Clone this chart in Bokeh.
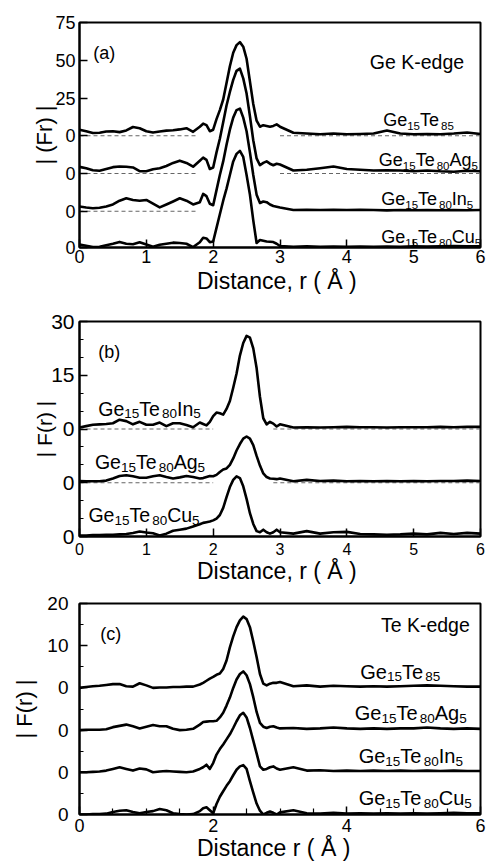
from bokeh.plotting import figure
from bokeh.models import FixedTicker, ColumnDataSource, Range1d
from bokeh.layouts import column
from bokeh.embed import file_html
from bokeh.resources import INLINE
from bokeh.core.properties import value, field
import numpy as np

FONT = "Liberation Sans"

# ---------------- data ----------------
r = [0.0, 0.1, 0.2, 0.3, 0.4, 0.5, 0.6, 0.7, 0.8, 0.9, 1.0, 1.1, 1.2, 1.3, 1.4, 1.5, 1.6, 1.7, 1.8,
     1.85, 1.9, 1.95, 2.0, 2.05, 2.1, 2.15, 2.2, 2.25, 2.3, 2.35, 2.4, 2.45, 2.5, 2.55, 2.6, 2.65,
     2.7, 2.75, 2.8, 2.85, 2.9, 2.95, 3.0,
     3.2, 3.4, 3.6, 3.8, 4.0, 4.2, 4.4, 4.6, 4.8, 5.0, 5.2, 5.4, 5.6, 5.8, 6.0]

# (a) Ge K-edge
a_te85 = [4, 3, 1.8, 2, 2.8, 3, 2.4, 3.5, 5.8, 5, 3, 2.2, 2.8, 3.4, 3.6, 4.2, 5, 2.6, 6,
          8, 7, 3, 4, 11, 17, 24, 35, 46, 55, 60, 62, 59, 51, 36, 21, 10, 6, 7, 6.5, 6, 6.5, 7.5, 6,
          2, 1.5, 1, 1.5, 1, 1.2, 1.5, 3.5, 1.5, 1, 1.2, 1, 1.5, 2.2, 1.2]
a_ag = [4.4, 3.5, 2.2, 1.8, 3, 4.2, 4.6, 4.5, 4, 1.6, 1.5, 2.8, 3.5, 5, 7, 8.5, 7, 4.5, 8.5,
        10.5, 9, 3, 4, 14, 23, 34, 45, 54, 62, 68, 69.5, 63, 53, 38, 22, 10, 5.5, 7, 8, 6.5, 5.5, 6.5, 6,
        2, 2.5, 3.5, 4.6, 3, 2.5, 2, 2.2, 2, 1.5, 2, 1.5, 1.2, 1.8, 1.5]
a_in = [3.1, 2.5, 2, 2.3, 3.2, 4.5, 7, 8.6, 7.5, 7, 7.5, 5, 2.6, 4.5, 6.5, 8.6, 7, 4.5, 6,
        11.5, 10, 5, 4, 14, 24, 33, 44, 54, 62, 67, 68, 62, 53, 39, 24, 11, 5.5, 6.5, 6, 4.5, 3.5, 3, 2.5,
        0.8, 1, 0.8, 1, 0.8, 1, 0.8, 0.6, 0.8, 0.7, 0.8, 0.7, 0.8, 0.7, 0.8]
a_cu = [2, 1.2, 0.3, 0.5, 1.5, 2.5, 3.7, 2.5, 2.2, 3.5, 2, 0.5, 1.8, 2.5, 3.2, 3, 2.5, 0.3, 3.5,
        6.5, 6, 3.5, 4, 13, 22, 31, 39, 48, 57, 62, 64, 60, 48, 35, 18, 3, 5, 4.5, 4, 3.8, 3.6, 2.5, 1,
        0.5, 0.8, 0.5, 0.7, 0.5, 0.6, 0.5, 0.7, 0.5, 0.8, 0.6, 0.8, 1, 0.8, 0.8]
a_offsets = [0, -25, -50, -74]

# (b)
b_in = [0.4, 0.8, 1.2, 1.3, 1.4, 1.6, 2.6, 2.2, 1.3, 2, 1.2, 1.2, 1.8, 0.8, 1.6, 1.6, 1.1, 0.5, 1.8,
        1.4, 1, 2, 3.6, 4.6, 4.4, 4, 5.6, 7.8, 11.5, 15.5, 20.5, 24, 26, 25.5, 22.5, 17, 9, 3, 1.3, 2, 1.5, 0.7, 1.3,
        0.4, 0.5, 0.4, 0.5, 0.6, 0.5, 0.5, 0.4, 0.5, 0.5, 0.5, 0.6, 0.5, 0.6, 0.6]
b_ag = [0.5, 0.4, 0.4, 0.4, 0.6, 1.2, 1.9, 2.1, 1.8, 1.4, 1.4, 1.8, 2.1, 1.6, 1.2, 1.5, 1.9, 1.6, 1.2,
        1.3, 1.6, 1.9, 1.8, 2.2, 3, 3.7, 4, 5, 6.8, 9, 10.8, 12.3, 12.9, 12.3, 10.5, 7.5, 4.8, 2.6, 1.6, 1.2, 1.1, 1, 1.2,
        0.4, 0.8, 0.5, 0.6, 0.4, 0.5, 0.4, 0.5, 0.4, 0.5, 0.4, 0.5, 0.5, 0.6, 0.5]
b_cu = [0.3, 0.3, 0.4, 0.4, 0.5, 0.5, 0.6, 0.7, 1, 1.4, 1.1, 0.9, 0.3, 0.8, 1.6, 1.9, 2.2, 2.8, 3.4,
        3.8, 4, 4.2, 4.5, 5, 6, 8, 11, 13.8, 15.8, 16.8, 16.3, 14, 10.5, 6.5, 3.5, 1.5, 1.2, 1.9, 1.2, 0.8, 1.2, 1.9, 1.2,
        0.8, 1.5, 0.8, 1.2, 1.3, 0.7, 0.6, 0.5, 0.6, 0.8, 0.6, 1, 0.7, 1, 0.8]
b_offsets = [0, -15, -30]

# (c) Te K-edge
c_te85 = [0, 0.2, 0.4, 0.5, 0.7, 0.9, 0.9, 0.4, 0.3, 1.1, 0.6, 0, 0.1, 0.1, 0.2, 0.2, 0.3, 0.3, 0.8,
          1.2, 1.7, 2.2, 2.6, 3.1, 3.4, 4.5, 6.5, 9.6, 12.2, 14.4, 16, 16.9, 16.3, 14.4, 11, 7.3, 3.3, 1, 0.6, 1, 1.2, 1.2, 1.4,
          0.4, 0.6, 0.3, 0.5, 0.4, 0.3, 0.4, 0.3, 0.4, 0.5, 0.6, 0.5, 0.4, 0.3, 0.3]
c_ag = [0, 0.1, 0.1, 0.1, 0.2, 0.7, 1, 1.3, 0.9, 0.4, 0.8, 1.2, 0.9, 0.9, 0.3, 0, 0.1, 0.3, 1.3,
        1.9, 2, 2.1, 2.1, 2.2, 3, 4.1, 5.8, 7.7, 10, 12, 13.3, 13.9, 13, 10.9, 7.8, 4.3, 1.7, 0.8, 0.5, 0.8, 0.9, 0.6, 0.4,
        0.5, 0.3, 0.4, 0.6, 0.4, 0.3, 0.4, 0.3, 0.4, 0.4, 0.6, 0.4, 0.3, 0.4, 0.3]
c_in = [0, 0, 0.1, 0.2, 0.4, 0.8, 1.2, 0.8, 0.4, 0.9, 0.7, 0, 0.2, 0.3, 0.2, 0.1, 0, 0.2, 0.8,
        1.2, 1.8, 0.8, 2.2, 4.2, 5.5, 6.6, 7.8, 9, 10.5, 12.1, 13.5, 14.1, 13, 10.5, 7.5, 4.5, 1.4, 0.6, 0.8, 1.2, 1.4, 0.9, 0.6,
        1.2, 0.4, 0.5, 0.3, 0.4, 0.3, 0.4, 0.3, 0.4, 0.3, 0.4, 0.3, 0.4, 0.3, 0.3]
c_cu = [0, 0, 0.1, 0.1, 0.2, 0.6, 0.9, 1, 0.6, 0.3, 0.6, 0.8, 1.3, 1, 0.3, 0.1, 0, 0.1, 0.8,
        1.5, 1.7, 1, 0.3, 2.5, 4.2, 5.5, 6.8, 7.9, 9.3, 10.6, 11.4, 11.7, 10.8, 7.9, 5.2, 2.6, 0.9, 0, 0.4, 0.7, 0.4, 0, 0.5,
        1, 0.3, 0.2, 0.4, 0.2, 0.3, 0.2, 0.3, 0.2, 0.3, 0.2, 0.3, 0.4, 0.3, 0.3]
c_offsets = [0, -10, -20, -30]

# tick labels
a_yticks = [-74, -50, -25, 0, 25, 50, 75]
a_ylabels = ["0", "0", "0", "0", "25", "50", "75"]
b_yticks = [-30, -15, 0, 15, 30]
b_ylabels = ["0", "0", "0", "15", "30"]
b_yminor = [-25, -20, -10, -5, 5, 10, 20, 25]
c_yticks = [-30, -20, -10, 0, 10, 20]
c_ylabels = ["0", "0", "0", "0", "10", "20"]
c_yminor = [-25, -15, -5, 5, 15]
ab_xticks = [0, 1, 2, 3, 4, 5, 6]
c_xticks = [0, 2, 4, 6]
c_xminor = [0.5, 1, 1.5, 2.5, 3, 3.5, 4.5, 5, 5.5]

# sample names: (text, is_subscript) segments
name_te85 = [("Ge", False), ("15", True), ("Te", False), ("85", True)]
name_ag = [("Ge", False), ("15", True), ("Te", False), ("80", True), ("Ag", False), ("5", True)]
name_in = [("Ge", False), ("15", True), ("Te", False), ("80", True), ("In", False), ("5", True)]
name_cu = [("Ge", False), ("15", True), ("Te", False), ("80", True), ("Cu", False), ("5", True)]

# approximate Arial/Liberation Sans advance widths (em)
WID = {'G': 0.778, 'e': 0.556, 'T': 0.611, 'A': 0.667, 'g': 0.556, 'I': 0.278, 'n': 0.556,
       'C': 0.722, 'u': 0.556}
for d in "0123456789":
    WID[d] = 0.556


def seg_width(t, size):
    return sum(WID.get(ch, 0.55) for ch in t) * size


def make_fig(height, bt, bb, bl, br, y0, y1, yticks, ylabels, yminor, xticks, xminor,
             ylab, ylab_size, ytick_size, xtick_size, ystand, ylab_stand, xstand, xlab_stand, xlab):
    p = figure(width=487, height=height, x_range=Range1d(0, 6), y_range=Range1d(y0, y1),
               output_backend="svg", toolbar_location=None, title=None,
               min_border_top=bt, min_border_bottom=bb, min_border_left=bl, min_border_right=br)
    p.grid.visible = False
    p.outline_line_color = "black"
    p.outline_line_width = 2
    p.background_fill_color = "white"
    p.border_fill_color = "white"

    ya = p.yaxis[0]
    ya.ticker = FixedTicker(ticks=yticks, minor_ticks=yminor)
    ya.major_label_overrides = {t: l for t, l in zip(yticks, ylabels)}
    ya.major_tick_in = 8
    ya.major_tick_out = 0
    ya.minor_tick_in = 4
    ya.minor_tick_out = 0
    ya.axis_line_width = 2
    ya.major_tick_line_width = 1.5
    ya.minor_tick_line_width = 1.2
    ya.major_label_text_font = FONT
    ya.major_label_text_font_size = f"{ytick_size}px"
    ya.major_label_text_color = "black"
    ya.major_label_standoff = ystand
    ya.axis_label = ylab
    ya.axis_label_text_font = FONT
    ya.axis_label_text_font_style = "normal"
    ya.axis_label_text_font_size = f"{ylab_size}px"
    ya.axis_label_text_color = "black"
    ya.axis_label_standoff = ylab_stand

    xa = p.xaxis[0]
    xa.ticker = FixedTicker(ticks=xticks, minor_ticks=xminor)
    xa.major_tick_in = 8
    xa.major_tick_out = 0
    xa.minor_tick_in = 6
    xa.minor_tick_out = 0
    xa.axis_line_width = 2
    xa.major_tick_line_width = 1.5
    xa.minor_tick_line_width = 1.2
    xa.major_label_text_font = FONT
    xa.major_label_text_font_size = f"{xtick_size}px"
    xa.major_label_text_color = "black"
    xa.major_label_standoff = xstand
    xa.axis_label = xlab
    xa.axis_label_text_font = FONT
    xa.axis_label_text_font_style = "normal"
    xa.axis_label_text_font_size = "23px"
    xa.axis_label_text_color = "black"
    xa.axis_label_standoff = xlab_stand
    return p


def add_names(p, items, main, sub, drop):
    d = dict(x=[], y=[], text=[], xo=[], yo=[], fs=[])
    for (x, y, segs) in items:
        xo = 0.0
        for t, is_sub in segs:
            size = sub if is_sub else main
            d["x"].append(x)
            d["y"].append(y)
            d["text"].append(t)
            d["xo"].append(xo)
            d["yo"].append(drop if is_sub else 0)
            d["fs"].append(f"{size}px")
            xo += seg_width(t, size)
    src = ColumnDataSource(d)
    p.text(x="x", y="y", text="text", x_offset="xo", y_offset="yo",
           text_font_size=field("fs"), text_font=value(FONT), text_color="black",
           text_baseline="alphabetic", text_align="left", source=src)


def add_dash(p, segments):
    for (xa, xb, y) in segments:
        p.line([xa, xb], [y, y], line_color="#666666", line_width=1.2, line_dash="4 3")


def add_curves(p, curves, offsets):
    rr = np.array(r)
    for vals, off in zip(curves, offsets):
        p.line(rr, np.array(vals) + off, line_color="black", line_width=2.6, line_join="round")


# ---------------- panel (a) ----------------
pa = make_fig(296, 22, 46, 79, 7, -74, 75, a_yticks, a_ylabels, [], ab_xticks, [],
              "| (Fr) |", 22, 18, 18, 4, -5, 2, 2, "Distance,  r ( Å )")
add_dash(pa, [(0, 1.75, 0), (3.0, 6.0, 0), (0, 1.75, -25), (3.0, 6.0, -25), (0, 1.75, -50)])
add_curves(pa, [a_te85, a_ag, a_in, a_cu], a_offsets)
add_names(pa, [(4.544, 10.5, name_te85), (4.479, -16.3, name_ag),
               (4.515, -42, name_in), (4.515, -67, name_cu)], 18, 11.5, 6)
add_names(pa, [(4.344, 48.7, [("Ge K-edge", False)])], 19.5, 12, 0)
add_names(pa, [(0.205, 55, [("(a)", False)])], 18, 12, 0)

# ---------------- panel (b) ----------------
pb = make_fig(292, 25, 52, 76, 4, -30, 30, b_yticks, b_ylabels, b_yminor, ab_xticks, [],
              "| F(r) |", 21, 21, 16, 5, -8, 6, 0, "Distance,  r ( Å )")
add_dash(pb, [(0, 2.0, 0), (2.9, 6.0, 0), (0, 2.0, -15), (2.9, 6.0, -15)])
add_curves(pb, [b_in, b_ag, b_cu], b_offsets)
add_names(pb, [(0.28, 5.6, name_in), (0.231, -9.3, name_ag), (0.133, -24.1, name_cu)], 19.5, 13.5, 5)
add_names(pb, [(0.28, 21.6, [("(b)", False)])], 18, 12, 0)

# ---------------- panel (c) ----------------
pc = make_fig(275, 15, 48, 74, 6, -30, 20, c_yticks, c_ylabels, c_yminor, c_xticks, c_xminor,
              "| F(r) |", 22, 19, 18, 11, 7, 4, 0, "Distance  r  ( Å )")
add_curves(pc, [c_te85, c_ag, c_in, c_cu], c_offsets)
add_names(pc, [(4.2, 3.8, name_te85), (4.118, -6, name_ag),
               (4.177, -16.25, name_in), (4.177, -26.1, name_cu)], 20, 13.5, 5)
add_names(pc, [(4.51, 15, [("Te K-edge", False)])], 19.5, 12, 0)
add_names(pc, [(0.31, 12.7, [("(c)", False)])], 18, 12, 0)

layout = column(pa, pb, pc)
open("out.html", "w").write(file_html(layout, INLINE))
